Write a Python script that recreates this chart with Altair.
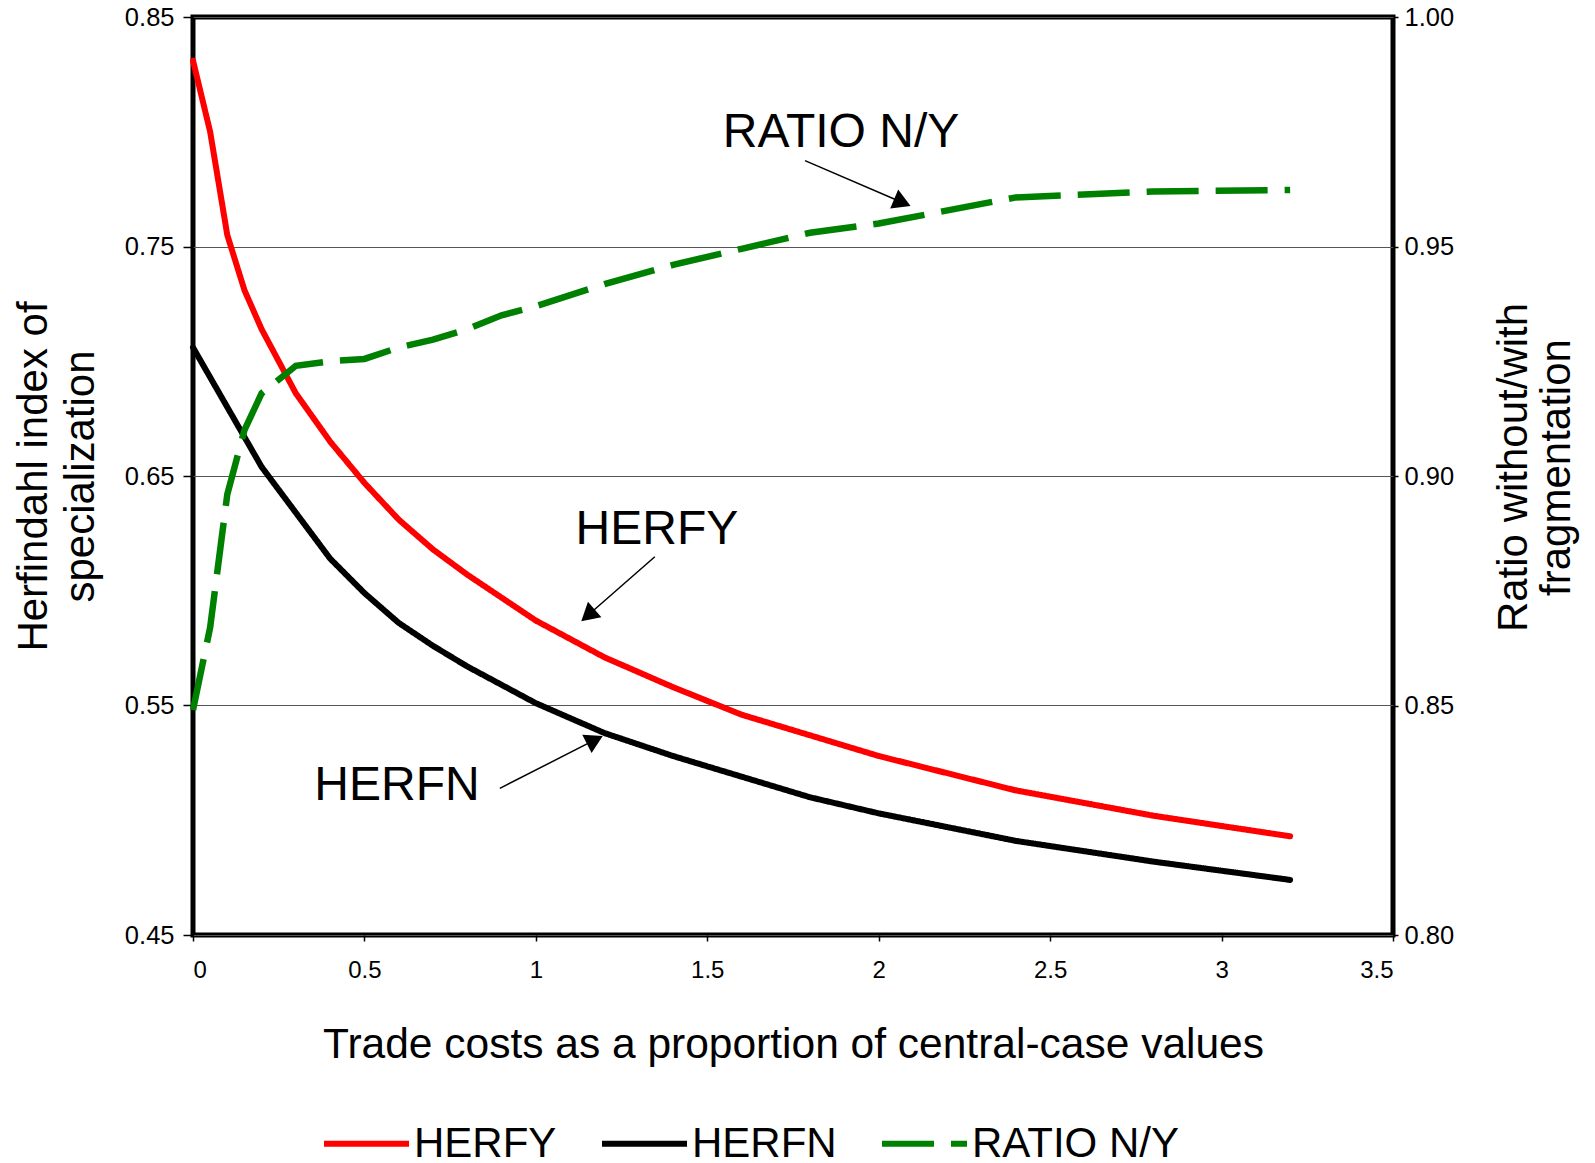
import altair as alt
import pandas as pd

# ---- data ----
x_vals = [0, 0.05, 0.1, 0.15, 0.2, 0.3, 0.4, 0.5, 0.6, 0.7, 0.8, 0.9, 1.0,
          1.2, 1.4, 1.6, 1.8, 2.0, 2.4, 2.8, 3.2]
herfy = [0.831, 0.800, 0.755, 0.731, 0.714, 0.686, 0.665, 0.647, 0.631, 0.618,
         0.607, 0.597, 0.587, 0.571, 0.558, 0.546, 0.537, 0.528, 0.513, 0.502, 0.493]
herfn = [0.706, 0.693, 0.680, 0.667, 0.654, 0.634, 0.614, 0.599, 0.586, 0.576,
         0.567, 0.559, 0.551, 0.538, 0.528, 0.519, 0.510, 0.503, 0.491, 0.482, 0.474]
ratio = [0.849, 0.867, 0.896, 0.910, 0.918, 0.924, 0.925, 0.9255, 0.928, 0.9297,
         0.932, 0.935, 0.937, 0.9418, 0.946, 0.9495, 0.953, 0.955, 0.9607, 0.962, 0.9623]

series_names = ["HERFY", "HERFN", "RATIO N/Y"]
series_colors = ["#ff0000", "#000000", "#008000"]
series_dashes = [[1, 0], [1, 0], [52, 17]]

x_ticks = [0, 0.5, 1, 1.5, 2, 2.5, 3, 3.5]
left_ticks = [0.45, 0.55, 0.65, 0.75, 0.85]
right_ticks = [0.80, 0.85, 0.90, 0.95, 1.00]

# annotations (data units of x and left y axis)
ann_labels = ["RATIO N/Y", "HERFY", "HERFN"]
ann_x = [1.890, 1.353, 0.595]
ann_y = [0.7935, 0.6204, 0.5087]
arrow_x0 = [1.785, 1.347, 0.895]
arrow_y0 = [0.7874, 0.6148, 0.5139]
arrow_x1 = [2.069, 1.152, 1.172]
arrow_y1 = [0.7692, 0.5893, 0.5350]
arrow_angle = [113, 229, 63]

FONT = "Liberation Sans"

n = len(x_vals)
herf_df = pd.DataFrame({"x": x_vals + x_vals, "y": herfy + herfn,
                        "series": ["HERFY"] * n + ["HERFN"] * n})
ratio_df = pd.DataFrame({"x": x_vals, "y": ratio, "series": ["RATIO N/Y"] * n})
ann_df = pd.DataFrame({"label": ann_labels, "x": ann_x, "y": ann_y})
arrow_df = pd.DataFrame({"x": arrow_x0, "y": arrow_y0, "x2": arrow_x1,
                         "y2": arrow_y1, "angle": arrow_angle})

legend = alt.Legend(title=None, orient="none", legendX=128, legendY=1081,
                    direction="horizontal", symbolType="stroke", symbolSize=7225,
                    symbolStrokeWidth=6, labelFontSize=42, labelFont=FONT,
                    labelColor="black", columnPadding=33, labelOffset=2,
                    labelLimit=500)

color = alt.Color("series:N", scale=alt.Scale(domain=series_names, range=series_colors),
                  legend=legend)
dash = alt.StrokeDash("series:N", scale=alt.Scale(domain=series_names, range=series_dashes),
                      legend=legend)

x_scale = alt.Scale(domain=[0, 3.5], nice=False, zero=False)
yl_scale = alt.Scale(domain=[0.45, 0.85], nice=False, zero=False)
yr_scale = alt.Scale(domain=[0.80, 1.00], nice=False, zero=False)

x_axis = alt.Axis(values=x_ticks, format="~g", grid=False, domain=False,
                  tickSize=6, tickColor="black", tickWidth=1.5,
                  labelFontSize=24, labelFont=FONT, labelColor="black", labelPadding=17,
                  title="Trade costs as a proportion of central-case values",
                  titleFontSize=42.5, titleFont=FONT, titleFontWeight="normal",
                  titleColor="black", titleX=600, titleY=122, titleAlign="center",
                  titleBaseline="alphabetic")

yl_axis = alt.Axis(orient="left", values=left_ticks, format=".2f", grid=True,
                   gridColor="#555555", gridWidth=1, domain=False,
                   tickSize=10, tickColor="black", tickWidth=1.5,
                   labelFontSize=25.5, labelFont=FONT, labelColor="black", labelPadding=9,
                   title=["Herfindahl index of", "specialization"],
                   titleFontSize=42, titleFont=FONT, titleFontWeight="normal",
                   titleColor="black", titleAngle=270, titleX=-160, titleY=459,
                   titleAlign="center", titleBaseline="middle", titleLineHeight=47)

yr_axis = alt.Axis(orient="right", values=right_ticks, format=".2f", grid=False,
                   domain=False, tickSize=5, tickColor="black", tickWidth=1.5,
                   labelFontSize=25.5, labelFont=FONT, labelColor="black", labelPadding=6,
                   title=["Ratio without/with", "fragmentation"],
                   titleFontSize=42, titleFont=FONT, titleFontWeight="normal",
                   titleColor="black", titleAngle=270, titleX=120, titleY=450,
                   titleAlign="center", titleBaseline="middle", titleLineHeight=43)

herf_lines = alt.Chart(herf_df).mark_line(strokeWidth=6, strokeCap="round").encode(
    x=alt.X("x:Q", scale=x_scale, axis=x_axis),
    y=alt.Y("y:Q", scale=yl_scale, axis=yl_axis),
    color=color, strokeDash=dash,
)

texts = alt.Chart(ann_df).mark_text(fontSize=48, font=FONT, align="center",
                                    baseline="alphabetic", color="black").encode(
    x=alt.X("x:Q", scale=x_scale), y=alt.Y("y:Q", scale=yl_scale), text="label:N")

arrows = alt.Chart(arrow_df).mark_rule(strokeWidth=1.5, color="black").encode(
    x=alt.X("x:Q", scale=x_scale), y=alt.Y("y:Q", scale=yl_scale),
    x2="x2:Q", y2="y2:Q")

heads = alt.Chart(arrow_df).mark_point(shape="triangle-up", filled=True, size=420,
                                       color="black", opacity=1).encode(
    x=alt.X("x2:Q", scale=x_scale), y=alt.Y("y2:Q", scale=yl_scale),
    angle=alt.Angle("angle:Q", scale=None))

left_layer = alt.layer(herf_lines, arrows, heads, texts)

ratio_line = alt.Chart(ratio_df).mark_line(strokeWidth=6.5, strokeCap="butt").encode(
    x=alt.X("x:Q", scale=x_scale),
    y=alt.Y("y:Q", scale=yr_scale, axis=yr_axis),
    color=color, strokeDash=dash,
)

chart = alt.layer(left_layer, ratio_line).resolve_scale(y="independent").properties(
    width=1200, height=918,
    autosize=alt.AutoSizeParams(type="none"),
    padding={"left": 185, "top": 9, "right": 192, "bottom": 235},
).configure(font=FONT).configure_view(stroke="black", strokeWidth=5)

chart.save("out.html", embed_options={"renderer": "svg", "actions": False})
